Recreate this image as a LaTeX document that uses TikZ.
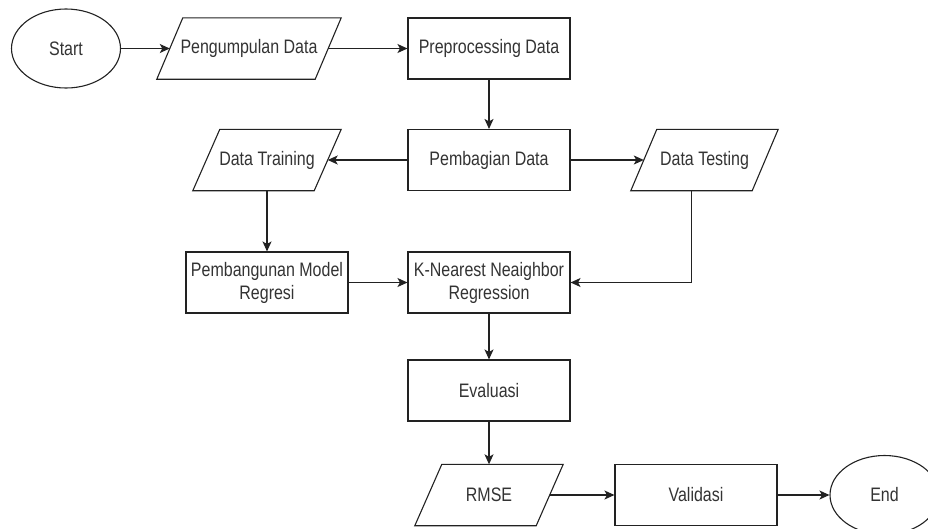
\documentclass[tikz,border=0pt]{standalone}
\usepackage{fontspec}
\setmainfont{Liberation Sans}[FakeStretch=0.82]
\usetikzlibrary{arrows.meta,shapes.geometric,calc}
\definecolor{txt}{HTML}{333333}
\definecolor{lc}{HTML}{222222}
\tikzset{
  box/.style={draw=lc, line width=1.1pt},
  procbox/.style={box, rectangle, minimum width=162pt, minimum height=61pt, inner sep=0pt, align=center, text=txt},
  term/.style={box, ellipse, minimum width=109pt, minimum height=79pt, inner sep=0pt, text=txt},
  paracore/.style={rectangle, minimum height=61pt, inner sep=0pt, text=txt},
  conn/.style={draw=lc, line width=1.2pt, -{Stealth[length=10pt,width=9pt,inset=2.5pt]}},
  plain/.style={draw=lc, line width=1.2pt}
}
\newcommand\drawpara[2]{\draw[box] ([xshift=-#2]#1.south west) -- ([xshift=-#2]#1.south east) -- ([xshift=#2]#1.north east) -- ([xshift=#2]#1.north west) -- cycle;}
\begin{document}
\begin{tikzpicture}[x=1pt,y=-1pt,font=\fontsize{19.5pt}{23pt}\selectfont]
\useasboundingbox (0,0) rectangle (928,528);
\clip (0,0) rectangle (928,528);
% nodes
\node[term] (start) at (66,48.5) {Start};
\node[paracore, minimum width=158pt] (peng) at (249,48.5) {Pengumpulan Data};
\node[procbox] (prep) at (489,48.5) {Preprocessing Data};
\node[procbox] (bagi) at (489,160) {Pembagian Data};
\node[paracore, minimum width=121pt] (dtrain) at (267,160) {Data Training};
\node[paracore, minimum width=121pt] (dtest) at (704.5,160) {Data Testing};
\node[procbox] (pemb) at (267,282.5) {Pembangunan Model\\Regresi};
\node[procbox] (knn) at (489,282.5) {K-Nearest Neaighbor\\Regression};
\node[procbox] (eval) at (489,390.5) {Evaluasi};
\node[paracore, minimum width=121pt] (rmse) at (489,495) {RMSE};
\node[procbox] (val) at (696,495) {Validasi};
\node[term] (end) at (884.5,495) {End};
% parallelogram outlines
\drawpara{peng}{13pt}
\drawpara{dtrain}{13.5pt}
\drawpara{dtest}{13pt}
\drawpara{rmse}{13.5pt}
% connectors
\draw[conn] (start) -- (peng.west);
\draw[conn] (peng.east) -- (prep);
\draw[conn] (prep) -- (bagi);
\draw[conn] (bagi) -- (dtrain.east);
\draw[conn] (bagi) -- (dtest.west);
\draw[conn] (dtrain.south) -- (pemb.north);
\draw[conn] (pemb) -- (knn);
\draw[conn] ([xshift=-13pt]dtest.south) |- (knn.east);
\draw[conn] (knn) -- (eval);
\draw[conn] (eval) -- (rmse.north);
\draw[conn] (rmse.east) -- (val);
\draw[conn] (val) -- (end);
\end{tikzpicture}
\end{document}
